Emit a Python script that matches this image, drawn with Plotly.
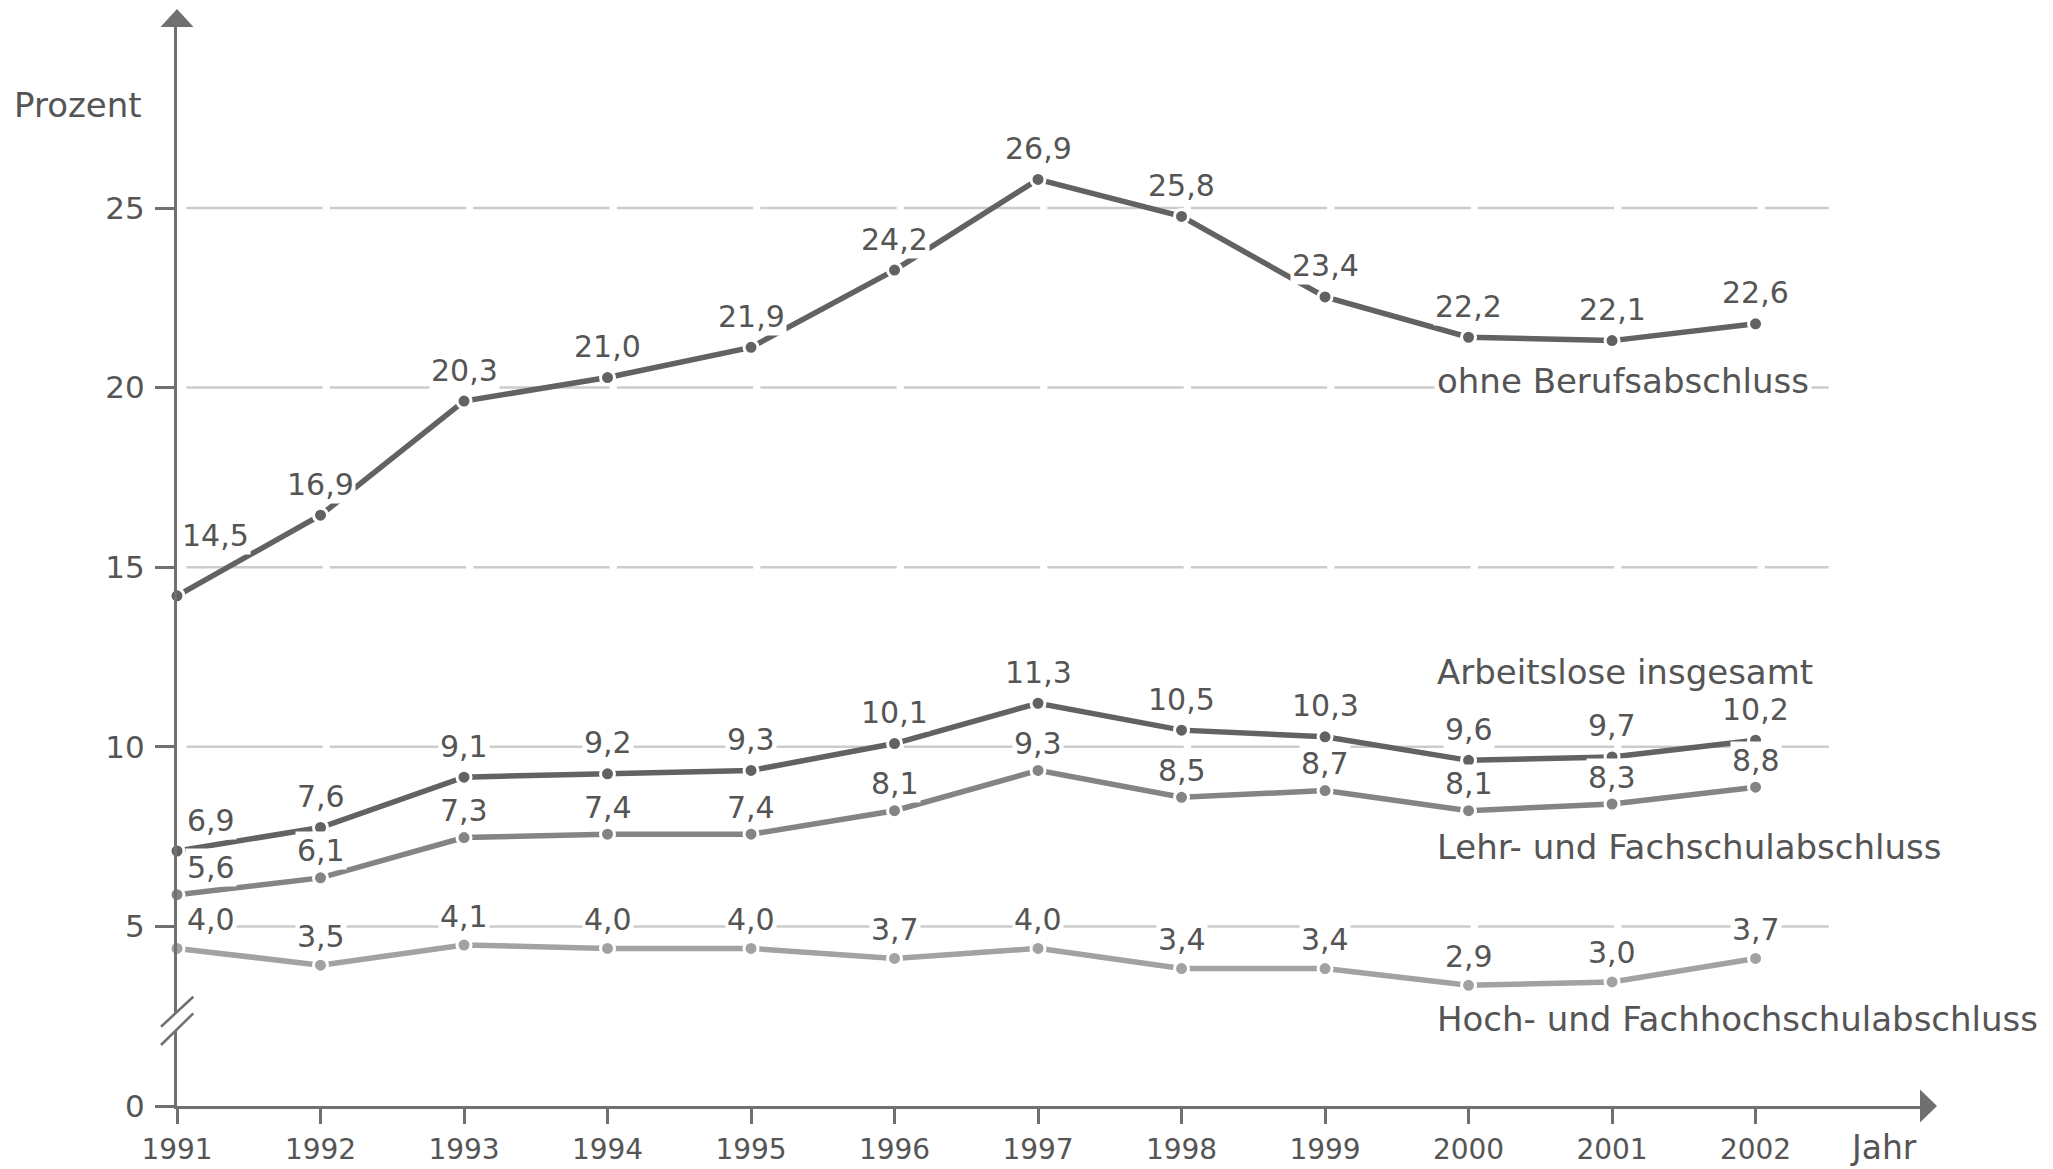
import plotly.graph_objects as go

years = list(range(1991, 2003))
ohne = [14.5, 16.9, 20.3, 21.0, 21.9, 24.2, 26.9, 25.8, 23.4, 22.2, 22.1, 22.6]
insgesamt = [6.9, 7.6, 9.1, 9.2, 9.3, 10.1, 11.3, 10.5, 10.3, 9.6, 9.7, 10.2]
lehr = [5.6, 6.1, 7.3, 7.4, 7.4, 8.1, 9.3, 8.5, 8.7, 8.1, 8.3, 8.8]
hoch = [4.0, 3.5, 4.1, 4.0, 4.0, 3.7, 4.0, 3.4, 3.4, 2.9, 3.0, 3.7]
names = ["ohne Berufsabschluss", "Arbeitslose insgesamt",
         "Lehr- und Fachschulabschluss", "Hoch- und Fachhochschulabschluss"]
yticks = [0, 5, 10, 15, 20, 25]

FONT = "DejaVu Sans"
TXT = "#555555"
AX = "#707070"
GRID = "#cccccc"

# colour, label lift (px), name label height (on the tick axis)
styles = [
    ("#626262", 31, 20.18),
    ("#626262", 31, 12.08),
    ("#848484", 27, 7.21),
    ("#a2a2a2", 29, 2.42),
]

Y_TOP = 30.04          # tick axis range
Y2 = [-0.694, 31.44]   # data axis range (original draws the points a bit off the tick scale)

fig = go.Figure()
annotations = []
for series, name, (col, lift, name_y) in zip([ohne, insgesamt, lehr, hoch], names, styles):
    fig.add_trace(go.Scatter(
        x=years, y=series, yaxis="y2", mode="lines+markers", name=name,
        line=dict(color=col, width=5.5),
        marker=dict(color=col, size=14, line=dict(color="white", width=3)),
        cliponaxis=False, showlegend=False, hoverinfo="skip"))
    for i, (yr, v) in enumerate(zip(years, series)):
        xs, ys = 0, lift
        if i == 0:
            xs = 34
            if series is ohne:
                ys, xs = 60, 38
        annotations.append(dict(
            x=yr, y=v, xref="x", yref="y2", text=f"{v:.1f}".replace(".", ","),
            showarrow=False, xshift=xs, yshift=ys, bgcolor="white", borderpad=1,
            font=dict(family=FONT, size=30, color=TXT)))
    annotations.append(dict(
        x=1999.76, y=name_y, xref="x", yref="y", text=name, xanchor="left",
        showarrow=False, bgcolor="white", borderpad=2,
        font=dict(family=FONT, size=34, color=TXT)))

annotations.append(dict(x=1991, y=27.87, xref="x", yref="y", text="Prozent",
                        xanchor="right", xshift=-33, showarrow=False,
                        font=dict(family=FONT, size=34, color=TXT)))
annotations.append(dict(x=2002.89, y=0, xref="x", yref="y", text="Jahr",
                        yshift=-41, showarrow=False,
                        font=dict(family=FONT, size=33, color=TXT)))

shapes = []
# broken grid lines
for g in yticks[1:]:
    for yr in years:
        shapes.append(dict(type="line", xref="x", yref="y", layer="below",
                           x0=yr + 0.065, x1=min(yr + 1.015, 2002.51), y0=g, y1=g,
                           line=dict(color=GRID, width=2.5)))

# axis arrows (paper refs so they are not clipped)
shapes.append(dict(type="path", xref="paper", yref="paper", xsizemode="pixel", ysizemode="pixel",
                   xanchor=0, yanchor=1, path="M -16.5 0 L 16.5 0 L 0 18 Z",
                   fillcolor=AX, line=dict(width=0)))
shapes.append(dict(type="path", xref="paper", yref="paper", xsizemode="pixel", ysizemode="pixel",
                   xanchor=1, yanchor=0, path="M 0 -16.5 L 0 16.5 L 17 0 Z",
                   fillcolor=AX, line=dict(width=0)))
# axis break
brk = 2.366 / Y_TOP
shapes.append(dict(type="path", xref="paper", yref="paper", xsizemode="pixel", ysizemode="pixel",
                   xanchor=0, yanchor=brk,
                   path="M -16 -5.7 L 16.3 24.3 L 16.3 7.7 L -16 -24 Z",
                   fillcolor="white", line=dict(width=0)))
for p in ["M -16 -5.7 L 16.3 24.3", "M -16 -24 L 16.3 7.7"]:
    shapes.append(dict(type="path", xref="paper", yref="paper", xsizemode="pixel", ysizemode="pixel",
                       xanchor=0, yanchor=brk, path=p,
                       line=dict(color=AX, width=2.5)))

fig.update_layout(
    width=2045, height=1161,
    margin=dict(l=169, r=133, t=19, b=63),
    plot_bgcolor="white", paper_bgcolor="white",
    xaxis=dict(range=[1991, 2003.146], tickvals=years, ticktext=[str(y) for y in years],
               ticks="outside", ticklen=15, tickwidth=3, tickcolor=AX,
               showline=True, linecolor=AX, linewidth=3, automargin=False,
               showgrid=False, zeroline=False, ticklabelstandoff=1,
               tickfont=dict(family=FONT, size=28, color=TXT)),
    yaxis=dict(range=[0, Y_TOP], tickvals=yticks, ticks="outside", ticklen=19,
               tickwidth=3, tickcolor=AX, showline=True, linecolor=AX, linewidth=3,
               showgrid=False, zeroline=False, ticklabelstandoff=4, automargin=False,
               tickfont=dict(family=FONT, size=31, color=TXT)),
    yaxis2=dict(range=Y2, overlaying="y", showgrid=False, zeroline=False, automargin=False,
                showticklabels=False, showline=False, ticks=""),
    annotations=annotations,
    shapes=shapes,
)

fig.write_html("out.html")
